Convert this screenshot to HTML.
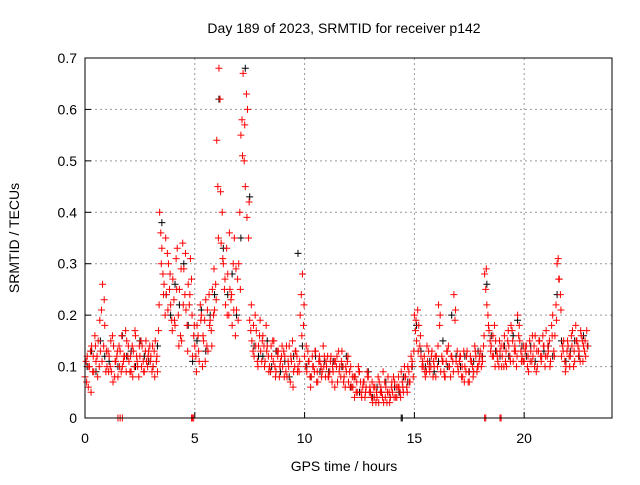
<!DOCTYPE html>
<html><head><meta charset="utf-8"><style>
body{margin:0;background:#fff}
svg{font-family:"Liberation Sans",sans-serif;font-size:14px}
</style></head><body>
<svg width="640" height="480" xmlns="http://www.w3.org/2000/svg">
<rect width="640" height="480" fill="#fff"/>
<g id="grid"></g>
<g id="axes"></g>
<g id="marks"></g>
<rect x="85" y="58" width="527" height="360" fill="none" stroke="#000" stroke-width="1"/>
<text x="344" y="33" text-anchor="middle">Day 189 of 2023, SRMTID for receiver p142</text>
<text x="344" y="471" text-anchor="middle">GPS time / hours</text>
<text transform="translate(19,238) rotate(-90)" text-anchor="middle">SRMTID / TECUs</text>
</svg>
<script>
const xTicks=[0,5,10,15,20];
const yTicks=[0,0.1,0.2,0.3,0.4,0.5,0.6,0.7];
const yTickLabels=["0","0.1","0.2","0.3","0.4","0.5","0.6","0.7"];
const redStartA=0.0, redStartB=0.05, redStartC=0.075, redStep=0.1, blackStart=0.1, blackStep=0.2;
const redA=[.08,.12,.10,.14,.09,.11,.15,.13,.26,.18,
.10,.12,.09,.14,.11,.08,.13,.10,.12,.15,
.11,.09,.13,.16,.10,.12,.14,.09,.11,.13,
.12,.10,.15,.09,.40,.33,.26,.24,.30,.22,
.27,.18,.33,.25,.15,.29,.21,.26,.31,.12,
.14,.18,.11,.20,.15,.23,.13,.19,.25,.21,
.54,.68,.34,.30,.22,.28,.25,.18,.35,.21,
.30,.55,.67,.45,.60,.19,.15,.12,.17,.14,
.13,.16,.11,.14,.10,.12,.15,.09,.13,.11,
.10,.12,.08,.14,.11,.09,.13,.10,.20,.28,
.12,.09,.11,.08,.10,.13,.07,.11,.09,.12,
.10,.08,.12,.09,.11,.07,.10,.13,.08,.09,
.07,.10,.06,.08,.05,.09,.04,.07,.06,.08,
.05,.03,.06,.04,.07,.05,.03,.06,.08,.04,
.05,.07,.04,.06,.09,.05,.08,.10,.07,.11,
.20,.15,.18,.12,.10,.08,.11,.09,.13,.10,
.12,.22,.09,.11,.08,.13,.10,.12,.24,.11,
.09,.12,.08,.10,.13,.07,.11,.09,.12,.10,
.13,.11,.28,.22,.17,.14,.12,.15,.11,.13,
.12,.16,.10,.14,.18,.11,.13,.20,.15,.12,
.11,.14,.09,.13,.12,.16,.10,.15,.12,.14,
.17,.13,.11,.20,.16,.30,.27,.12,.15,.10,
.14,.12,.17,.11,.15,.13,.16,.14,.12];
const redB=[.11,.06,.13,.09,.16,.12,.10,.21,.14,.09,
.13,.10,.16,.08,.12,.14,.09,.11,.17,.12,
.09,.14,.10,.12,.08,.15,.11,.13,.10,.14,
.09,.13,.11,.17,.36,.28,.20,.32,.25,.19,
.23,.31,.20,.16,.34,.24,.18,.22,.27,.16,
.12,.16,.22,.10,.19,.14,.24,.17,.20,.26,
.45,.62,.40,.25,.33,.20,.23,.30,.16,.27,
.40,.58,.50,.63,.35,.17,.13,.20,.11,.16,
.11,.14,.18,.12,.09,.15,.10,.13,.08,.12,
.13,.09,.11,.07,.15,.10,.12,.09,.24,.18,
.10,.13,.08,.12,.09,.07,.11,.10,.14,.08,
.12,.09,.07,.11,.10,.13,.08,.10,.06,.11,
.09,.06,.08,.05,.10,.07,.06,.04,.09,.05,
.04,.06,.03,.08,.05,.04,.07,.03,.05,.06,
.08,.04,.06,.05,.07,.10,.06,.09,.12,.08,
.17,.21,.14,.10,.12,.09,.13,.10,.08,.12,
.10,.18,.12,.09,.11,.14,.08,.11,.19,.13,
.11,.08,.13,.09,.07,.12,.10,.14,.09,.11,
.10,.14,.25,.20,.15,.12,.18,.13,.10,.14,
.14,.11,.15,.12,.17,.13,.10,.16,.13,.11,
.13,.10,.15,.11,.14,.09,.13,.12,.16,.10,
.12,.15,.18,.13,.22,.31,.24,.14,.11,.13,
.12,.16,.10,.18,.14,.11,.15,.13,.17];
const redC=[.07,.10,.05,.12,.14,.08,.19,.11,.23,.13,
.09,.15,.07,.11,.13,.10,.16,.12,.09,.14,
.12,.08,.17,.11,.14,.10,.09,.15,.12,.11,
.14,.08,.12,.22,.30,.24,.35,.21,.28,.17,
.19,.25,.14,.29,.22,.32,.13,.24,.20,.18,
.09,.13,.19,.16,.11,.21,.18,.14,.29,.23,
.35,.44,.31,.27,.20,.36,.24,.21,.29,.19,
.25,.51,.57,.39,.42,.22,.18,.14,.10,.19,
.15,.10,.13,.09,.14,.11,.08,.12,.10,.14,
.08,.14,.10,.12,.06,.13,.09,.11,.16,.22,
.14,.11,.06,.10,.13,.09,.12,.08,.10,.11,
.08,.11,.10,.06,.12,.09,.11,.07,.10,.12,
.06,.08,.04,.07,.09,.05,.07,.05,.08,.06,
.07,.04,.05,.03,.06,.09,.04,.05,.03,.07,
.04,.06,.08,.04,.06,.08,.05,.07,.10,.13,
.19,.13,.16,.11,.09,.14,.10,.12,.11,.08,
.14,.20,.11,.08,.13,.10,.12,.09,.21,.10,
.12,.10,.07,.12,.09,.11,.08,.13,.10,.12,
.12,.16,.29,.18,.13,.16,.10,.12,.15,.10,
.10,.13,.17,.11,.15,.14,.12,.18,.11,.14,
.14,.12,.11,.16,.10,.13,.15,.11,.14,.12,
.14,.10,.16,.12,.19,.27,.21,.13,.09,.15,
.10,.14,.13,.15,.12,.17,.11,.15,.14];
const black=[.10,.13,.09,.15,.12,.11,.14,.10,.16,.12,
.13,.10,.15,.12,.11,.10,.14,.38,.24,.20,
.26,.22,.30,.18,.11,.15,.21,.13,.20,.24,
.62,.33,.24,.28,.20,.35,.68,.43,.14,.12,
.12,.15,.10,.13,.09,.11,.08,.12,.32,.14,
.10,.08,.12,.09,.11,.09,.11,.07,.10,.12,
.06,.08,.05,.07,.09,.04,.06,.05,.07,.04,
.06,.05,.08,.07,.10,.18,.13,.10,.11,.09,
.11,.15,.10,.20,.12,.10,.12,.09,.11,.13,
.12,.26,.16,.13,.12,.14,.12,.16,.19,.14,
.12,.14,.11,.15,.13,.14,.12,.24,.15,.11,
.13,.15,.12,.16,.14];
const redZeroTimes=[1.5,1.6,1.7,4.85,4.9,4.95,18.2,18.25,18.9,18.95];
const blackZeroTimes=[14.4,14.45];

const NS="http://www.w3.org/2000/svg";
const X=t=>85+t*(527/24);
const Y=v=>418-v*(360/0.7);
const grid=document.getElementById('grid'),axes=document.getElementById('axes'),marks=document.getElementById('marks');
function mk(tag,attrs,parent){const e=document.createElementNS(NS,tag);for(const k in attrs)e.setAttribute(k,attrs[k]);parent.appendChild(e);return e;}
xTicks.forEach(t=>{
  if(t>0){const g=mk('line',{x1:X(t),x2:X(t),y1:58,y2:418,stroke:'#999','stroke-dasharray':'2,3'},grid);
  
  }
  const tk=mk('line',{x1:X(t),x2:X(t),y1:418,y2:412,stroke:'#000'},axes);
  
  
  const l=mk('text',{x:X(t),y:443,'text-anchor':'middle'},axes);l.textContent=t;
  
  
});
yTicks.forEach((v,i)=>{
  if(v>0&&v<0.7){const g=mk('line',{x1:85,x2:612,y1:Y(v),y2:Y(v),stroke:'#999','stroke-dasharray':'2,3'},grid);
  
  }
  const tk=mk('line',{x1:85,x2:91,y1:Y(v),y2:Y(v),stroke:'#000'},axes);
  
  
  const l=mk('text',{x:77,y:Y(v)+5,'text-anchor':'end'},axes);l.textContent=yTickLabels[i];
  
  
});
function plus(t,v,color,name){
  const x=X(t),y=Y(v);
  const p=mk('path',{d:`M${x-3.5},${y}h7M${x},${y-3.5}v7`,stroke:color,'stroke-width':1,fill:'none'},marks);
  
  
}
black.forEach((v,i)=>plus(blackStart+i*blackStep,v,'#000','black-point'));
blackZeroTimes.forEach(t=>plus(t,0,'#000','black-point'));
redA.forEach((v,i)=>plus(redStartA+i*redStep,v,'#f00','red-point'));
redB.forEach((v,i)=>plus(redStartB+i*redStep,v,'#f00','red-point'));
redC.forEach((v,i)=>plus(redStartC+i*redStep,v,'#f00','red-point'));
redZeroTimes.forEach(t=>plus(t,0,'#f00','red-point'));
</script>
</body></html>
